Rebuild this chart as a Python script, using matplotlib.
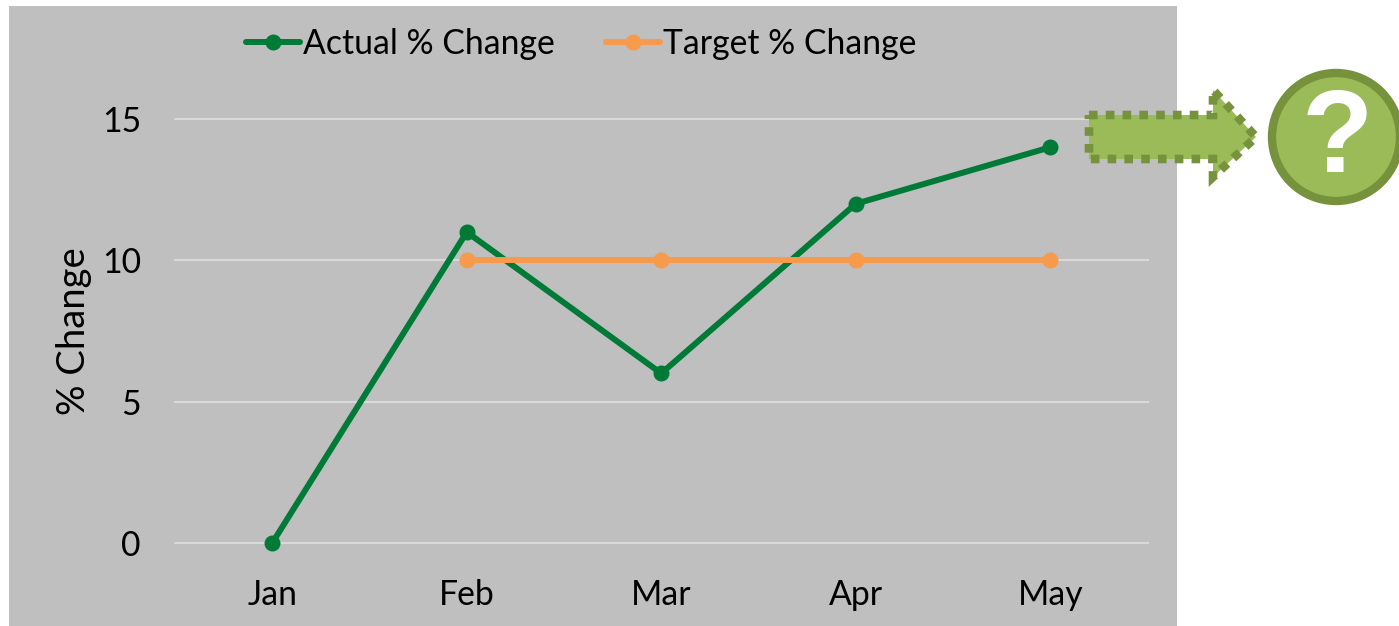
import numpy as np
import matplotlib
matplotlib.use("Agg")
import matplotlib.pyplot as plt
from matplotlib.patches import Rectangle, Polygon, Circle

plt.rcParams['font.family'] = ['Lato', 'DejaVu Sans']

months = ["Jan", "Feb", "Mar", "Apr", "May"]
actual = [0, 11, 6, 12, 14]
target = [np.nan, 10, 10, 10, 10]
y_ticks = [0, 5, 10, 15]

W, H = 1399, 626
GREEN = "#007A37"
ORANGE = "#F79A4B"

fig = plt.figure(figsize=(W / 100, H / 100), dpi=100, facecolor="white")

# grey panel behind the chart, in pixel coordinates
bg = fig.add_axes([0, 0, 1, 1], zorder=0)
bg.set_xlim(0, W)
bg.set_ylim(H, 0)
bg.axis("off")
bg.add_patch(Rectangle((9, 6), 1168, 620, facecolor="#BFBFBF", edgecolor="none"))

ax = fig.add_axes([175 / W, (H - 543) / H, 972.5 / W, 424 / H], zorder=1)
ax.patch.set_alpha(0)
x = np.arange(len(months))
ax.plot(x, actual, color=GREEN, lw=4.3, marker="o", ms=10.5, label="Actual % Change",
        clip_on=False, zorder=3, solid_capstyle="round")
ax.plot(x, target, color=ORANGE, lw=4.3, marker="o", ms=10.5, label="Target % Change",
        clip_on=False, zorder=4, solid_capstyle="round")
ax.set_xlim(-0.5, 4.5)
ax.set_ylim(0, 15)
ax.set_xticks(x, months)
ax.set_yticks(y_ticks)
ax.tick_params(length=0, labelsize=24.3, colors="black")
ax.tick_params(axis="x", pad=26)
ax.tick_params(axis="y", pad=24.5)
ax.grid(axis="y", color="#D9D9D9", lw=1.5, clip_on=False)
ax.set_axisbelow(True)
for s in ax.spines.values():
    s.set_visible(False)
ax.set_ylabel("% Change", fontsize=27.5, labelpad=7)

fig.legend(*ax.get_legend_handles_labels(), loc="center", ncol=2, frameon=False,
           fontsize=24.3, handlelength=1.6, handletextpad=0.1, columnspacing=1.5,
           bbox_to_anchor=(581 / W, (H - 44) / H))

# arrow and question mark badge
ov = fig.add_axes([0, 0, 1, 1], zorder=2)
ov.set_xlim(0, W)
ov.set_ylim(H, 0)
ov.axis("off")
arrow = [(1089, 115), (1213, 115), (1213, 90), (1256, 137), (1213, 177), (1213, 159), (1089, 159)]
ov.add_patch(Polygon(arrow, closed=True, facecolor="#9BBB59", edgecolor="#76923C",
                     lw=6.2, linestyle=(0, (1, 0.95)), joinstyle="miter"))
ov.add_patch(Circle((1336, 137), 64, facecolor="#9BBB59", edgecolor="#76923C", lw=6))
ov.text(1337, 141, "?", color="white", fontsize=84, fontweight="bold",
        family="Liberation Sans", ha="center", va="center")

fig.savefig("out.png", dpi=100)
